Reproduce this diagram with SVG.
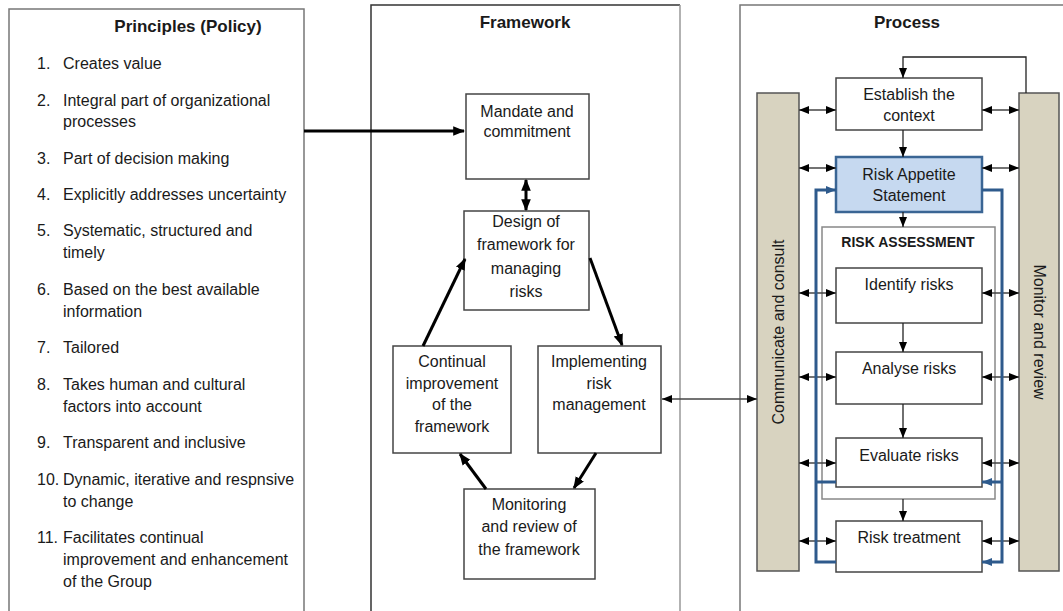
<svg xmlns="http://www.w3.org/2000/svg" width="1063" height="611" viewBox="0 0 1063 611">
<defs>
<style>
text{font-family:"Liberation Sans",Arial,sans-serif;fill:#1a1a1a}
.t{font-size:16px}
.c{font-size:16px;text-anchor:middle}
.h{font-size:17px;font-weight:bold;text-anchor:middle}
.panel{fill:none;stroke:#777;stroke-width:1.5}
.box{fill:#fff;stroke:#444;stroke-width:1.5}
.bar{fill:#d8d3c0;stroke:#555;stroke-width:1.5}
.thick{fill:none;stroke:#000;stroke-width:3}
.thin{fill:none;stroke:#222;stroke-width:1.3}
.dbl{fill:none;stroke:#444;stroke-width:1.3}
.blue{fill:none;stroke:#2e5a8c;stroke-width:3}
</style>
<marker id="big" viewBox="0 0 10 10" refX="9" refY="5" markerWidth="12" markerHeight="12" markerUnits="userSpaceOnUse" orient="auto-start-reverse"><path d="M0,1 L10,5 L0,9 z" fill="#000"/></marker>
<marker id="sm" viewBox="0 0 10 10" refX="10" refY="5" markerWidth="10" markerHeight="10" markerUnits="userSpaceOnUse" orient="auto-start-reverse"><path d="M0,1 L10,5 L0,9 z" fill="#000"/></marker>
<marker id="bl" viewBox="0 0 10 10" refX="10" refY="5" markerWidth="10" markerHeight="10" markerUnits="userSpaceOnUse" orient="auto"><path d="M0,1 L10,5 L0,9 z" fill="#2e5a8c"/></marker>
</defs>
<rect width="1063" height="611" fill="#fff"/>

<g id="principles">
<path class="panel" d="M9,620 V9 H304 V620"/>
<text class="h" x="188" y="32">Principles (Policy)</text>
<g class="t">
<text x="37" y="69">1.</text><text x="63" y="69">Creates value</text>
<text x="37" y="106">2.</text><text x="63" y="106">Integral part of organizational</text><text x="63" y="127">processes</text>
<text x="37" y="164">3.</text><text x="63" y="164">Part of decision making</text>
<text x="37" y="200">4.</text><text x="63" y="200">Explicitly addresses uncertainty</text>
<text x="37" y="236">5.</text><text x="63" y="236">Systematic, structured and</text><text x="63" y="258">timely</text>
<text x="37" y="295">6.</text><text x="63" y="295">Based on the best available</text><text x="63" y="317">information</text>
<text x="37" y="353">7.</text><text x="63" y="353">Tailored</text>
<text x="37" y="390">8.</text><text x="63" y="390">Takes human and cultural</text><text x="63" y="412">factors into account</text>
<text x="37" y="448">9.</text><text x="63" y="448">Transparent and inclusive</text>
<text x="37" y="485">10.</text><text x="63" y="485">Dynamic, iterative and respnsive</text><text x="63" y="507">to change</text>
<text x="37" y="543">11.</text><text x="63" y="543">Facilitates continual</text><text x="63" y="565">improvement and enhancement</text><text x="63" y="587">of the Group</text>
</g>
</g>

<g id="framework">
<path d="M371,620 V5 H680" fill="none" stroke="#333" stroke-width="1.5"/>
<path d="M680,5 V620" fill="none" stroke="#999" stroke-width="1.5"/>
<text class="h" x="525" y="28">Framework</text>
</g>

<g id="mandate">
<rect class="box" x="466" y="94" width="123" height="85"/>
<text class="c" x="527" y="117">Mandate and</text>
<text class="c" x="527" y="137">commitment</text>
</g>
<g id="design">
<rect class="box" x="464" y="211" width="125" height="99"/>
<text class="c" x="526" y="227">Design of</text>
<text class="c" x="526" y="250">framework for</text>
<text class="c" x="526" y="274">managing</text>
<text class="c" x="526" y="297">risks</text>
</g>
<g id="continual">
<rect class="box" x="393" y="346" width="118" height="107"/>
<text class="c" x="452" y="367">Continual</text>
<text class="c" x="452" y="389">improvement</text>
<text class="c" x="452" y="410">of the</text>
<text class="c" x="452" y="432">framework</text>
</g>
<g id="implementing">
<rect class="box" x="538" y="346" width="123" height="107"/>
<text class="c" x="599" y="367">Implementing</text>
<text class="c" x="599" y="389">risk</text>
<text class="c" x="599" y="410">management</text>
</g>
<g id="monitoring">
<rect class="box" x="464" y="489" width="131" height="90"/>
<text class="c" x="529" y="510">Monitoring</text>
<text class="c" x="529" y="532">and review of</text>
<text class="c" x="529" y="555">the framework</text>
</g>

<g id="process">
<path class="panel" d="M740,620 V5 H1063"/>
<text class="h" x="907" y="28">Process</text>
</g>
<g id="communicate">
<rect class="bar" x="757" y="93" width="42" height="478"/>
<text class="c" transform="translate(784,332) rotate(-90)">Communicate and consult</text>
</g>
<g id="monitor">
<rect class="bar" x="1019" y="93" width="40" height="478"/>
<text class="c" transform="translate(1034,332) rotate(90)">Monitor and review</text>
</g>
<g id="establish">
<rect class="box" x="836" y="78" width="146" height="52"/>
<text class="c" x="909" y="100">Establish the</text>
<text class="c" x="909" y="121">context</text>
</g>
<g id="appetite">
<rect x="836" y="157" width="146" height="55" fill="#c6d9f0" stroke="#3a6594" stroke-width="2.5"/>
<text class="c" x="909" y="180">Risk Appetite</text>
<text class="c" x="909" y="201">Statement</text>
</g>
<g id="assessment">
<rect x="822" y="227" width="173" height="272" fill="none" stroke="#888" stroke-width="1.5"/>
<text x="908" y="247" style="font-size:14px;font-weight:bold;text-anchor:middle">RISK ASSESSMENT</text>
</g>
<g id="identify">
<rect class="box" x="836" y="268" width="146" height="55"/>
<text class="c" x="909" y="290">Identify risks</text>
</g>
<g id="analyse">
<rect class="box" x="836" y="352" width="146" height="52"/>
<text class="c" x="909" y="374">Analyse risks</text>
</g>
<g id="evaluate">
<rect class="box" x="836" y="438" width="146" height="49"/>
<text class="c" x="909" y="461">Evaluate risks</text>
</g>
<g id="treatment">
<rect class="box" x="836" y="521" width="146" height="51"/>
<text class="c" x="909" y="543">Risk treatment</text>
</g>

<g id="connectors">
<line class="thick" x1="304" y1="131" x2="464" y2="131" marker-end="url(#big)"/>
<line class="thick" x1="526" y1="180" x2="526" y2="210" stroke-width="2.5" marker-start="url(#big)" marker-end="url(#big)"/>
<line class="thick" x1="423" y1="346" x2="465" y2="259" marker-end="url(#big)"/>
<line class="thick" x1="590" y1="258" x2="622" y2="345" marker-end="url(#big)"/>
<line class="thick" x1="596" y1="453" x2="574" y2="488" marker-end="url(#big)"/>
<line class="thick" x1="486" y1="489" x2="460" y2="454" marker-end="url(#big)"/>
<line class="dbl" x1="662" y1="399" x2="757" y2="399" marker-start="url(#sm)" marker-end="url(#sm)"/>

<polyline class="thin" points="1026,93 1026,57 903,57 903,78" marker-end="url(#sm)"/>
<line class="thin" x1="903" y1="130" x2="903" y2="157" marker-end="url(#sm)"/>
<line class="thin" x1="903" y1="212" x2="903" y2="227" marker-end="url(#sm)"/>
<line class="thin" x1="903" y1="323" x2="903" y2="352" marker-end="url(#sm)"/>
<line class="thin" x1="903" y1="404" x2="903" y2="438" marker-end="url(#sm)"/>
<line class="thin" x1="903" y1="499" x2="903" y2="521" marker-end="url(#sm)"/>

<g class="dbl">
<line x1="799" y1="110" x2="836" y2="110" marker-start="url(#sm)" marker-end="url(#sm)"/>
<line x1="799" y1="168" x2="836" y2="168" marker-start="url(#sm)" marker-end="url(#sm)"/>
<line x1="799" y1="293" x2="836" y2="293" marker-start="url(#sm)" marker-end="url(#sm)"/>
<line x1="799" y1="377" x2="836" y2="377" marker-start="url(#sm)" marker-end="url(#sm)"/>
<line x1="799" y1="463" x2="836" y2="463" marker-start="url(#sm)" marker-end="url(#sm)"/>
<line x1="799" y1="541" x2="836" y2="541" marker-start="url(#sm)" marker-end="url(#sm)"/>
<line x1="982" y1="110" x2="1019" y2="110" marker-start="url(#sm)" marker-end="url(#sm)"/>
<line x1="982" y1="168" x2="1019" y2="168" marker-start="url(#sm)" marker-end="url(#sm)"/>
<line x1="982" y1="293" x2="1019" y2="293" marker-start="url(#sm)" marker-end="url(#sm)"/>
<line x1="982" y1="377" x2="1019" y2="377" marker-start="url(#sm)" marker-end="url(#sm)"/>
<line x1="982" y1="463" x2="1019" y2="463" marker-start="url(#sm)" marker-end="url(#sm)"/>
<line x1="982" y1="541" x2="1019" y2="541" marker-start="url(#sm)" marker-end="url(#sm)"/>
</g>

<path class="blue" d="M836,562 H816 V190 H836" marker-end="url(#bl)"/>
<path class="blue" d="M836,482 H816"/>
<path class="blue" d="M982,190 H1002 V562 H982" marker-end="url(#bl)"/>
<path class="blue" d="M1002,482 H982" marker-end="url(#bl)"/>
</g>
</svg>
